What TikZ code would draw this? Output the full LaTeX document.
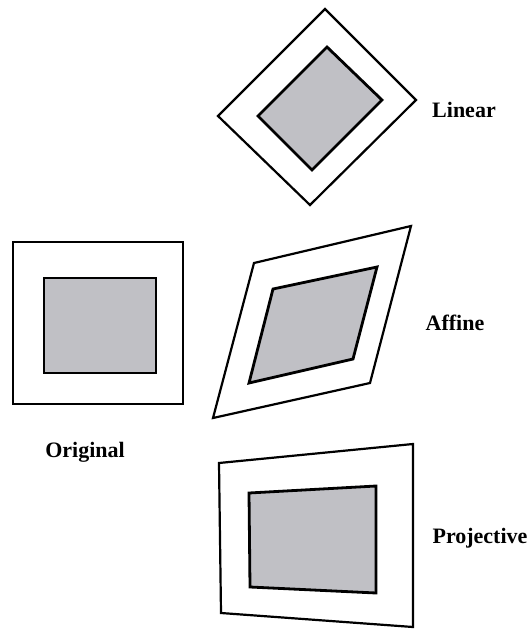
\documentclass[tikz,border=0pt]{standalone}
\usepackage{fontspec}
\setmainfont{Liberation Serif}
\definecolor{panel}{RGB}{192,192,197}
\begin{document}
\begin{tikzpicture}[x=1pt, y=-1pt, line join=miter,
    frame/.style={line width=2.2pt},
    patch/.style={line width=2.8pt, fill=panel},
    lbl/.style={font=\fontsize{22}{25}\selectfont\bfseries, inner sep=0pt}]
  \useasboundingbox (0,0) rectangle (530,630);
  % original
  \draw[frame] (13,242) rectangle (183,404);
  \draw[patch] (44,278) rectangle (156,373);
  \node[lbl] (original) at (85,452) {Original};
  % linear
  \draw[frame] (325,9) -- (416,100) -- (310,205) -- (218,116) -- cycle;
  \draw[patch] (327,47) -- (382,100) -- (312,170) -- (258,116) -- cycle;
  \node[lbl] (linear) at (464,110) {Linear};
  % affine
  \draw[frame] (254,263) -- (411,226) -- (370,383) -- (213,418) -- cycle;
  \draw[patch] (273,289) -- (377,267) -- (353,359) -- (249,383) -- cycle;
  \node[lbl] (affine) at (455,323) {Affine};
  % projective
  \draw[frame] (219,463) -- (413,444) -- (413,627) -- (221,613) -- cycle;
  \draw[patch] (249,493) -- (376,486) -- (376,593) -- (250,587) -- cycle;
  \node[lbl] (projective) at (480,538) {Projective};
\end{tikzpicture}
\end{document}
